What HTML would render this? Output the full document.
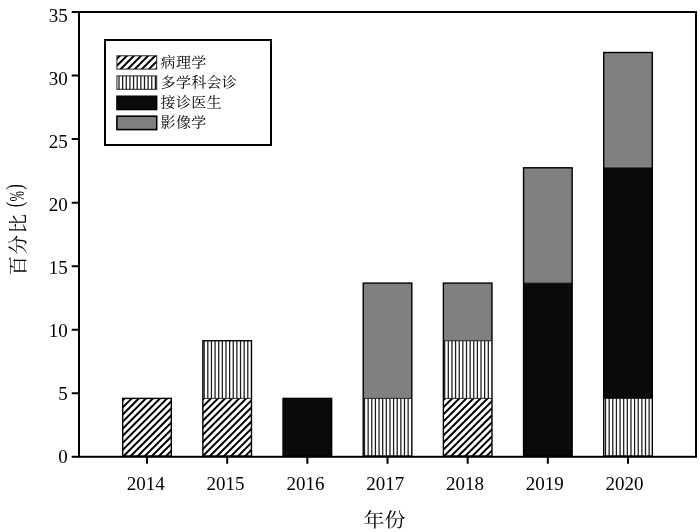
<!DOCTYPE html>
<html lang="zh"><head><meta charset="utf-8"><title>chart</title>
<style>html,body{margin:0;padding:0;background:#fff}svg{display:block}.n{font-family:"Liberation Serif","Noto Serif CJK SC",serif;font-size:19px;fill:#000}.c{font-family:"Liberation Serif","Noto Serif CJK SC",serif;fill:#000}</style></head><body>
<svg width="700" height="532" viewBox="0 0 700 532">
<rect width="700" height="532" fill="#fff"/>
<defs><clipPath id="c1"><rect x="122.70" y="398.40" width="48.60" height="57.65"/></clipPath><clipPath id="c2"><rect x="202.87" y="398.40" width="48.60" height="57.65"/></clipPath><clipPath id="c3"><rect x="443.38" y="398.40" width="48.60" height="57.65"/></clipPath><clipPath id="cl"><rect x="116.9" y="55.8" width="39.80" height="13.30"/></clipPath></defs>
<rect x="122.70" y="398.40" width="48.60" height="57.65" fill="#fff"/>
<path d="M120.70 388.29L173.30 335.69M120.70 395.36L173.30 342.76M120.70 402.43L173.30 349.83M120.70 409.50L173.30 356.90M120.70 416.57L173.30 363.97M120.70 423.64L173.30 371.04M120.70 430.71L173.30 378.11M120.70 437.78L173.30 385.18M120.70 444.85L173.30 392.25M120.70 451.92L173.30 399.32M120.70 458.99L173.30 406.39M120.70 466.06L173.30 413.46M120.70 473.13L173.30 420.53M120.70 480.20L173.30 427.60M120.70 487.27L173.30 434.67M120.70 494.34L173.30 441.74M120.70 501.41L173.30 448.81M120.70 508.48L173.30 455.88" stroke="#000" stroke-width="2.0" fill="none" clip-path="url(#c1)"/>
<rect x="122.70" y="398.40" width="48.60" height="57.65" fill="none" stroke="#000" stroke-width="1.4"/>
<rect x="202.87" y="398.40" width="48.60" height="57.65" fill="#fff"/>
<path d="M200.87 387.29L253.47 334.69M200.87 394.36L253.47 341.76M200.87 401.43L253.47 348.83M200.87 408.50L253.47 355.90M200.87 415.57L253.47 362.97M200.87 422.64L253.47 370.04M200.87 429.71L253.47 377.11M200.87 436.78L253.47 384.18M200.87 443.85L253.47 391.25M200.87 450.92L253.47 398.32M200.87 457.99L253.47 405.39M200.87 465.06L253.47 412.46M200.87 472.13L253.47 419.53M200.87 479.20L253.47 426.60M200.87 486.27L253.47 433.67M200.87 493.34L253.47 440.74M200.87 500.41L253.47 447.81M200.87 507.48L253.47 454.88" stroke="#000" stroke-width="2.0" fill="none" clip-path="url(#c2)"/>
<rect x="202.87" y="340.75" width="48.60" height="57.65" fill="#fff"/>
<path d="M204.17 340.75V398.40M207.81 340.75V398.40M211.44 340.75V398.40M215.07 340.75V398.40M218.71 340.75V398.40M222.34 340.75V398.40M225.98 340.75V398.40M229.61 340.75V398.40M233.25 340.75V398.40M236.88 340.75V398.40M240.52 340.75V398.40M244.15 340.75V398.40M247.79 340.75V398.40" stroke="#1a1a1a" stroke-width="1.25" fill="none"/>
<path d="M202.87 398.40H251.47" stroke="#000" stroke-width="0.8" fill="none"/>
<rect x="202.87" y="340.75" width="48.60" height="115.30" fill="none" stroke="#000" stroke-width="1.4"/>
<rect x="283.04" y="398.40" width="48.60" height="57.65" fill="#0a0a0a"/>
<rect x="283.04" y="398.40" width="48.60" height="57.65" fill="none" stroke="#000" stroke-width="1.4"/>
<rect x="363.21" y="398.40" width="48.60" height="57.65" fill="#fff"/>
<path d="M364.51 398.40V456.05M368.14 398.40V456.05M371.78 398.40V456.05M375.41 398.40V456.05M379.05 398.40V456.05M382.68 398.40V456.05M386.32 398.40V456.05M389.95 398.40V456.05M393.59 398.40V456.05M397.22 398.40V456.05M400.86 398.40V456.05M404.49 398.40V456.05M408.13 398.40V456.05" stroke="#1a1a1a" stroke-width="1.25" fill="none"/>
<rect x="363.21" y="283.10" width="48.60" height="115.30" fill="#808080"/>
<path d="M363.21 398.40H411.81" stroke="#000" stroke-width="0.8" fill="none"/>
<rect x="363.21" y="283.10" width="48.60" height="172.95" fill="none" stroke="#000" stroke-width="1.4"/>
<rect x="443.38" y="398.40" width="48.60" height="57.65" fill="#fff"/>
<path d="M441.38 388.09L493.98 335.49M441.38 395.16L493.98 342.56M441.38 402.23L493.98 349.63M441.38 409.30L493.98 356.70M441.38 416.37L493.98 363.77M441.38 423.44L493.98 370.84M441.38 430.51L493.98 377.91M441.38 437.58L493.98 384.98M441.38 444.65L493.98 392.05M441.38 451.72L493.98 399.12M441.38 458.79L493.98 406.19M441.38 465.86L493.98 413.26M441.38 472.93L493.98 420.33M441.38 480.00L493.98 427.40M441.38 487.07L493.98 434.47M441.38 494.14L493.98 441.54M441.38 501.21L493.98 448.61M441.38 508.28L493.98 455.68" stroke="#000" stroke-width="2.0" fill="none" clip-path="url(#c3)"/>
<rect x="443.38" y="340.75" width="48.60" height="57.65" fill="#fff"/>
<path d="M444.68 340.75V398.40M448.31 340.75V398.40M451.95 340.75V398.40M455.58 340.75V398.40M459.22 340.75V398.40M462.85 340.75V398.40M466.49 340.75V398.40M470.12 340.75V398.40M473.76 340.75V398.40M477.39 340.75V398.40M481.03 340.75V398.40M484.66 340.75V398.40M488.30 340.75V398.40" stroke="#1a1a1a" stroke-width="1.25" fill="none"/>
<rect x="443.38" y="283.10" width="48.60" height="57.65" fill="#808080"/>
<path d="M443.38 398.40H491.98" stroke="#000" stroke-width="0.8" fill="none"/>
<path d="M443.38 340.75H491.98" stroke="#000" stroke-width="0.8" fill="none"/>
<rect x="443.38" y="283.10" width="48.60" height="172.95" fill="none" stroke="#000" stroke-width="1.4"/>
<rect x="523.55" y="283.10" width="48.60" height="172.95" fill="#0a0a0a"/>
<rect x="523.55" y="167.80" width="48.60" height="115.30" fill="#808080"/>
<path d="M523.55 283.10H572.15" stroke="#000" stroke-width="0.8" fill="none"/>
<rect x="523.55" y="167.80" width="48.60" height="288.25" fill="none" stroke="#000" stroke-width="1.4"/>
<rect x="603.72" y="398.40" width="48.60" height="57.65" fill="#fff"/>
<path d="M605.52 398.40V456.05M609.15 398.40V456.05M612.79 398.40V456.05M616.42 398.40V456.05M620.06 398.40V456.05M623.69 398.40V456.05M627.33 398.40V456.05M630.96 398.40V456.05M634.60 398.40V456.05M638.23 398.40V456.05M641.87 398.40V456.05M645.50 398.40V456.05M649.14 398.40V456.05" stroke="#1a1a1a" stroke-width="1.25" fill="none"/>
<rect x="603.72" y="167.80" width="48.60" height="230.60" fill="#0a0a0a"/>
<rect x="603.72" y="52.50" width="48.60" height="115.30" fill="#808080"/>
<path d="M603.72 398.40H652.32" stroke="#000" stroke-width="0.8" fill="none"/>
<path d="M603.72 167.80H652.32" stroke="#000" stroke-width="0.8" fill="none"/>
<rect x="603.72" y="52.50" width="48.60" height="403.55" fill="none" stroke="#000" stroke-width="1.4"/>
<rect x="79.0" y="12.0" width="617.0" height="444.8" fill="none" stroke="#000" stroke-width="2"/>
<path d="M71.7 456.80H79.0M71.7 393.26H79.0M71.7 329.71H79.0M71.7 266.17H79.0M71.7 202.63H79.0M71.7 139.09H79.0M71.7 75.54H79.0M71.7 12.00H79.0M147.00 456.8V463.80M227.17 456.8V463.80M307.34 456.8V463.80M387.51 456.8V463.80M467.68 456.8V463.80M547.85 456.8V463.80M628.02 456.8V463.80" stroke="#000" stroke-width="2" fill="none"/>
<text class="n" x="67.8" y="463.20" text-anchor="end">0</text>
<text class="n" x="67.8" y="400.19" text-anchor="end">5</text>
<text class="n" x="67.8" y="337.18" text-anchor="end">10</text>
<text class="n" x="67.8" y="274.17" text-anchor="end">15</text>
<text class="n" x="67.8" y="211.16" text-anchor="end">20</text>
<text class="n" x="67.8" y="148.15" text-anchor="end">25</text>
<text class="n" x="67.8" y="85.14" text-anchor="end">30</text>
<text class="n" x="67.8" y="22.13" text-anchor="end">35</text>
<text class="n" x="145.80" y="490" text-anchor="middle">2014</text>
<text class="n" x="225.60" y="490" text-anchor="middle">2015</text>
<text class="n" x="305.40" y="490" text-anchor="middle">2016</text>
<text class="n" x="385.20" y="490" text-anchor="middle">2017</text>
<text class="n" x="465.00" y="490" text-anchor="middle">2018</text>
<text class="n" x="544.80" y="490" text-anchor="middle">2019</text>
<text class="n" x="624.60" y="490" text-anchor="middle">2020</text>
<text class="c" transform="translate(384.6,526.9) scale(1,0.92)" text-anchor="middle" font-size="21">年份</text>
<text class="c" transform="translate(24.7,275.5) rotate(-90)" font-size="19.5" letter-spacing="1.5">百分比</text>
<text class="c" transform="translate(21.7,207.3) rotate(-90) scale(0.7,1)" font-size="24">(</text>
<text class="c" transform="translate(24,201.4) rotate(-90) scale(0.6,1)" font-size="21">%</text>
<text class="c" transform="translate(21.7,189.8) rotate(-90) scale(0.7,1)" font-size="24">)</text>
<rect x="105" y="40" width="166" height="105" fill="#fff" stroke="#000" stroke-width="2"/>
<path d="M114.90 46.59L158.70 2.79M114.90 53.66L158.70 9.86M114.90 60.73L158.70 16.93M114.90 67.80L158.70 24.00M114.90 74.87L158.70 31.07M114.90 81.94L158.70 38.14M114.90 89.01L158.70 45.21M114.90 96.08L158.70 52.28M114.90 103.15L158.70 59.35M114.90 110.22L158.70 66.42M114.90 117.29L158.70 73.49" stroke="#000" stroke-width="2.0" fill="none" clip-path="url(#cl)"/>
<rect x="116.9" y="55.8" width="39.80" height="13.30" fill="none" stroke="#222" stroke-width="1"/>
<text class="c" transform="translate(160.6,66.75) scale(1,0.94)" font-size="15" letter-spacing="0.3">病理学</text>
<path d="M119.00 75.90V89.30M122.64 75.90V89.30M126.28 75.90V89.30M129.92 75.90V89.30M133.56 75.90V89.30M137.20 75.90V89.30M140.84 75.90V89.30M144.48 75.90V89.30M148.12 75.90V89.30M151.76 75.90V89.30M155.40 75.90V89.30" stroke="#1a1a1a" stroke-width="1.25" fill="none"/>
<rect x="116.9" y="75.9" width="39.80" height="13.40" fill="none" stroke="#222" stroke-width="1"/>
<text class="c" transform="translate(160.6,86.90) scale(1,0.94)" font-size="15" letter-spacing="0.3">多学科会诊</text>
<rect x="116.9" y="96.2" width="39.80" height="13.40" fill="#0a0a0a" stroke="#000" stroke-width="1.4"/>
<text class="c" transform="translate(160.6,107.20) scale(1,0.94)" font-size="15" letter-spacing="0.3">接诊医生</text>
<rect x="116.9" y="116.2" width="39.80" height="13.40" fill="#808080" stroke="#000" stroke-width="1.6"/>
<text class="c" transform="translate(160.6,127.20) scale(1,0.94)" font-size="15" letter-spacing="0.3">影像学</text>
</svg></body></html>
